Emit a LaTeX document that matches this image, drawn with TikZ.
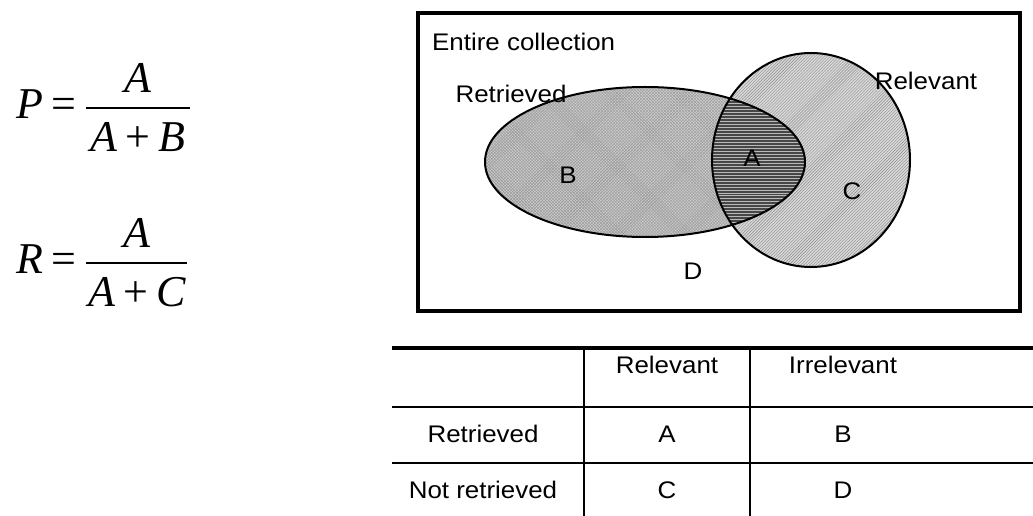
\documentclass[tikz,border=0pt]{standalone}
\usepackage{fontspec}
\setmainfont{Liberation Sans}
\newfontfamily\sansx[FakeStretch=1.08]{Liberation Sans}
\newfontfamily\serifx{Liberation Serif}
\usetikzlibrary{patterns}
\tikzset{
  lbl/.style={font=\sansx\fontsize{24bp}{28bp}\selectfont, inner sep=0pt},
  frm/.style={font=\serifx\fontsize{44bp}{50bp}\selectfont, inner sep=0pt, anchor=base},
  thin rule/.style={line width=2bp},
  thick rule/.style={line width=4.5bp},
  shape outline/.style={line width=2bp},
}
\begin{document}
\begin{tikzpicture}[x=1bp,y=-1bp]
\useasboundingbox (0,0) rectangle (1033,516);

% formulas
\node[frm, anchor=base west] (P) at (16,119) {\itshape P};
\node[frm] (eqP) at (64,119) {=};
\draw[line width=2bp] (86,108) -- (190,108);
\node[frm] (numP) at (138,93) {\itshape A};
\node[frm] (denP) at (138,152) {\itshape A\hspace{8bp}\upshape +\hspace{8bp}\itshape B};

\node[frm, anchor=base west] (R) at (16,274) {\itshape R};
\node[frm] (eqR) at (64,274) {=};
\draw[line width=2bp] (86,263) -- (187,263);
\node[frm] (numR) at (137,248) {\itshape A};
\node[frm] (denR) at (137,307) {\itshape A\hspace{8bp}\upshape +\hspace{8bp}\itshape C};

% Venn box
\draw[thick rule] (418,13) rectangle (1020,311);

% ellipse (retrieved)
\fill[gray!40] (645,162) ellipse [x radius=160, y radius=75];
\fill[pattern=crosshatch, pattern color=gray!80] (645,162) ellipse [x radius=160, y radius=75];
% circle (relevant)
\fill[gray!30] (811,160) ellipse [x radius=99, y radius=107];
\fill[pattern=north east lines, pattern color=gray!90] (811,160) ellipse [x radius=99, y radius=107];
% intersection
\begin{scope}
  \clip (811,160) ellipse [x radius=99, y radius=107];
  \fill[black!72] (645,162) ellipse [x radius=160, y radius=75];
  \fill[pattern=horizontal lines, pattern color=gray!55] (645,162) ellipse [x radius=160, y radius=75];
\end{scope}
\draw[shape outline] (645,162) ellipse [x radius=160, y radius=75];
\draw[shape outline] (811,160) ellipse [x radius=99, y radius=107];

\node[lbl, anchor=west] (title) at (432,42) {Entire collection};
\node[lbl] (lretr) at (511,94) {Retrieved};
\node[lbl] (lrel) at (926,81) {Relevant};
\node[lbl] (vB) at (568,175) {B};
\node[lbl] (vA) at (752,158) {A};
\node[lbl] (vC) at (852,191) {C};
\node[lbl] (vD) at (693,271) {D};

% table
\draw[thick rule] (392,348) -- (1033,348);
\draw[thin rule] (392,407) -- (1033,407);
\draw[thin rule] (392,463) -- (1033,463);
\draw[thin rule] (584,348) -- (584,516);
\draw[thin rule] (750,348) -- (750,516);

\node[lbl] (hrel) at (667,365) {Relevant};
\node[lbl] (hirr) at (843,365) {Irrelevant};
\node[lbl] (rretr) at (483,434) {Retrieved};
\node[lbl] (tA) at (667,434) {A};
\node[lbl] (tB) at (843,434) {B};
\node[lbl] (rnot) at (483,490) {Not retrieved};
\node[lbl] (tC) at (667,490) {C};
\node[lbl] (tD) at (843,490) {D};
\end{tikzpicture}
\end{document}
